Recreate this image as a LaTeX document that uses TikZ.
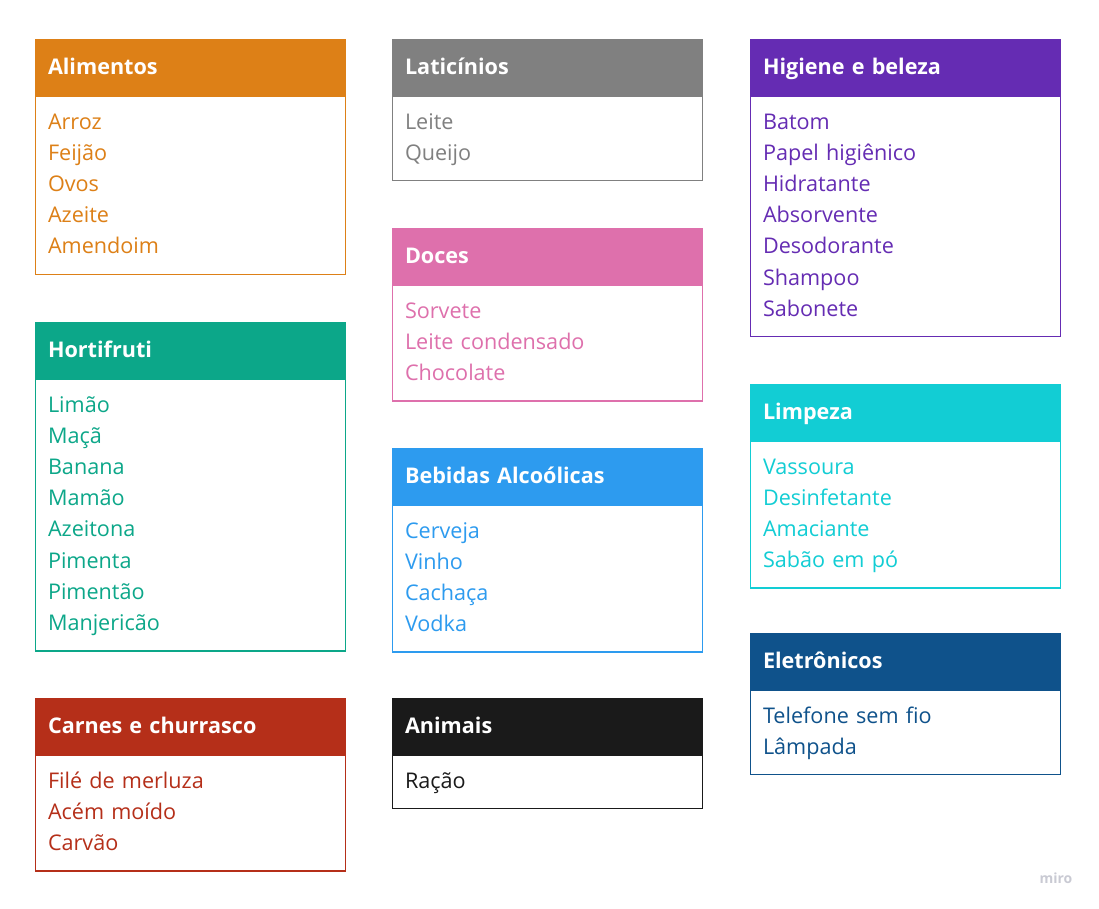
\documentclass[tikz,border=0pt]{standalone}
\usepackage{fontspec}
\setmainfont{Open Sans}
\usetikzlibrary{positioning}

\definecolor{alimcol}{HTML}{DD8017}
\definecolor{laticol}{HTML}{808080}
\definecolor{higicol}{HTML}{652CB3}
\definecolor{hortcol}{HTML}{0CA789}
\definecolor{docecol}{HTML}{DE70AC}
\definecolor{limpcol}{HTML}{12CDD4}
\definecolor{bebicol}{HTML}{2D9BEF}
\definecolor{eletcol}{HTML}{0F528B}
\definecolor{carncol}{HTML}{B52F19}
\definecolor{animcol}{HTML}{1A1A1A}
\definecolor{mirocol}{HTML}{C9CAD3}

\begin{document}
\begin{tikzpicture}[x=0.75pt, y=-0.75pt,
  head/.style={rectangle, draw=#1, fill=#1, line width=1.1pt, text=white,
    font=\bfseries\fontsize{16.2}{19}\selectfont, minimum width=232.5pt,
    minimum height=41.25pt, text width=214.1pt, inner xsep=9.2pt, align=left,
    text height=11.6pt, text depth=0pt, anchor=north west},
  items/.style={rectangle, draw=#1, fill=white, line width=1.1pt, text=#1,
    font=\fontsize{16.2}{23.4}\selectfont, minimum width=232.5pt,
    text width=214.1pt, inner xsep=9.2pt, inner ysep=8.3pt, align=left,
    anchor=north west, execute at begin node=\strut, execute at end node=\strut}
]
  \useasboundingbox (0,0) rectangle (1099,909);

  % first column
  \node[head=alimcol] (alim-head) at (35,39) {Alimentos};
  \node[items=alimcol] (alim-list) at (alim-head.south west)
    {Arroz\\Feijão\\Ovos\\Azeite\\Amendoim};

  \node[head=hortcol] (hort-head) at (35,322) {Hortifruti};
  \node[items=hortcol] (hort-list) at (hort-head.south west)
    {Limão\\Maçã\\Banana\\Mamão\\Azeitona\\Pimenta\\Pimentão\\Manjericão};

  \node[head=carncol] (carn-head) at (35,698) {Carnes e churrasco};
  \node[items=carncol] (carn-list) at (carn-head.south west)
    {Filé de merluza\\Acém moído\\Carvão};

  % second column
  \node[head=laticol] (lati-head) at (392,39) {Laticínios};
  \node[items=laticol] (lati-list) at (lati-head.south west)
    {Leite\\Queijo};

  \node[head=docecol] (doce-head) at (392,228) {Doces};
  \node[items=docecol] (doce-list) at (doce-head.south west)
    {Sorvete\\Leite condensado\\Chocolate};

  \node[head=bebicol] (bebi-head) at (392,448) {Bebidas Alcoólicas};
  \node[items=bebicol] (bebi-list) at (bebi-head.south west)
    {Cerveja\\Vinho\\Cachaça\\Vodka};

  \node[head=animcol] (anim-head) at (392,698) {Animais};
  \node[items=animcol] (anim-list) at (anim-head.south west)
    {Ração};

  % third column
  \node[head=higicol] (higi-head) at (750,39) {Higiene e beleza};
  \node[items=higicol] (higi-list) at (higi-head.south west)
    {Batom\\Papel higiênico\\Hidratante\\Absorvente\\Desodorante\\Shampoo\\Sabonete};

  \node[head=limpcol] (limp-head) at (750,384) {Limpeza};
  \node[items=limpcol] (limp-list) at (limp-head.south west)
    {Vassoura\\Desinfetante\\Amaciante\\Sabão em pó};

  \node[head=eletcol] (elet-head) at (750,633) {Eletrônicos};
  \node[items=eletcol] (elet-list) at (elet-head.south west)
    {Telefone sem fio\\Lâmpada};

  \node[text=mirocol, font=\bfseries\fontsize{10.5}{12}\selectfont] (miro) at (1056,878) {miro};
\end{tikzpicture}
\end{document}
